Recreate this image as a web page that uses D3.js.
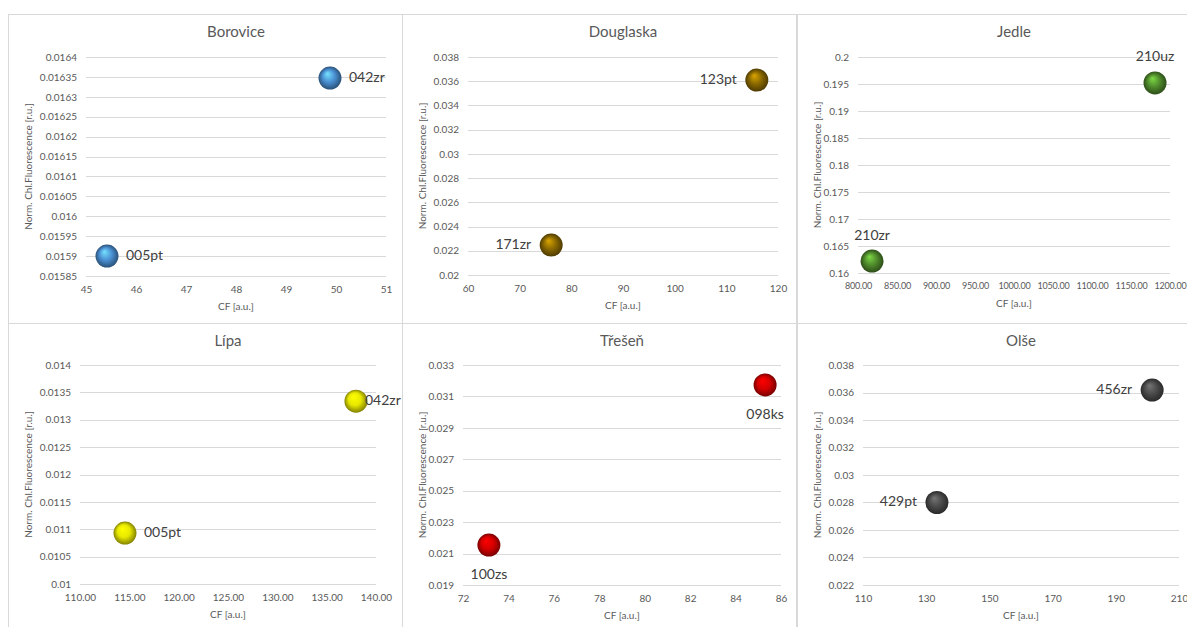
<!DOCTYPE html>
<html>
<head>
<meta charset="utf-8">
<script src="https://cdn.jsdelivr.net/npm/d3@7"></script>
<style>
  body { margin: 0; background: #fff; }
  text { font-family: Lato, "Open Sans", sans-serif; }
</style>
</head>
<body>
<script>
// data
var titles = ['Borovice', 'Douglaska', 'Jedle', 'Lípa', 'Třešeň', 'Olše'];
var pointNames = [['042zr', '005pt'], ['123pt', '171zr'], ['210uz', '210zr'],
                  ['042zr', '005pt'], ['098ks', '100zs'], ['456zr', '429pt']];
var cfValues = [[49.88, 45.42], [115.9, 76.1], [1180.8, 818],
                [137.97, 114.56], [85.3, 73.14], [201.5, 133.4]];
var fluorValues = [[0.016347, 0.0159], [0.0361, 0.02247], [0.1952, 0.1622],
                   [0.01334, 0.01093], [0.03173, 0.02154], [0.03618, 0.028]];
var xTicks = [[45, 46, 47, 48, 49, 50, 51],
              [60, 70, 80, 90, 100, 110, 120],
              [800, 850, 900, 950, 1000, 1050, 1100, 1150, 1200],
              [110, 115, 120, 125, 130, 135, 140],
              [72, 74, 76, 78, 80, 82, 84, 86],
              [110, 130, 150, 170, 190, 210]];
var yTicks = [[0.01585, 0.0159, 0.01595, 0.016, 0.01605, 0.0161, 0.01615, 0.0162, 0.01625, 0.0163, 0.01635, 0.0164],
              [0.02, 0.022, 0.024, 0.026, 0.028, 0.03, 0.032, 0.034, 0.036, 0.038],
              [0.16, 0.165, 0.17, 0.175, 0.18, 0.185, 0.19, 0.195, 0.2],
              [0.01, 0.0105, 0.011, 0.0115, 0.012, 0.0125, 0.013, 0.0135, 0.014],
              [0.019, 0.021, 0.023, 0.025, 0.027, 0.029, 0.031, 0.033],
              [0.022, 0.024, 0.026, 0.028, 0.03, 0.032, 0.034, 0.036, 0.038]];
var xFormats = ['d', 'd', '.2f', '.2f', 'd', 'd'];

// look
var sphereColors = ['#4a8fd2', '#8a6800', '#4f8a2c', '#e8e800', '#d40000', '#4a4a4a'];
var labelSide = ['right', 'left', 'above', 'right', 'below', 'left'];
var colLeft = [8, 402, 797];
var rowTop = [14, 323];
// plot area inside each panel: left, right, top, bottom
var plotBox = [[78, 378, 43, 262], [66, 376, 43, 261], [61, 373, 43, 259],
               [72, 368, 42, 261], [61, 379, 42, 262], [66, 382, 42, 262]];

var svg = d3.select('body').append('svg').attr('width', 1187).attr('height', 627);
var defs = svg.append('defs');

sphereColors.forEach(function(c, i) {
  var g = defs.append('radialGradient').attr('id', 'sph' + i)
    .attr('cx', '50%').attr('cy', '50%').attr('r', '50%')
    .attr('fx', '38%').attr('fy', '30%');
  g.append('stop').attr('offset', '0%').attr('stop-color', d3.color(c).brighter(1.3));
  g.append('stop').attr('offset', '55%').attr('stop-color', c);
  g.append('stop').attr('offset', '100%').attr('stop-color', d3.color(c).darker(1.6));
});

titles.forEach(function(title, i) {
  var px = colLeft[i % 3], py = rowTop[Math.floor(i / 3)];
  var b = plotBox[i];
  var g = svg.append('g').attr('transform', 'translate(' + px + ',' + py + ')');

  g.append('rect').attr('x', 0.5).attr('y', 0.5).attr('width', 394).attr('height', 309)
    .attr('fill', 'none').attr('stroke', '#d9d9d9');

  var xt = xTicks[i], yt = yTicks[i];
  var x = d3.scaleLinear().domain([xt[0], xt[xt.length - 1]]).range([b[0], b[1]]);
  var y = d3.scaleLinear().domain([yt[0], yt[yt.length - 1]]).range([b[3], b[2]]);

  // gridlines
  g.selectAll('line.grid').data(yt).enter().append('line')
    .attr('x1', b[0]).attr('x2', b[1])
    .attr('y1', function(d) { return Math.round(y(d)) + 0.5; })
    .attr('y2', function(d) { return Math.round(y(d)) + 0.5; })
    .attr('stroke', '#d9d9d9');

  var yAxis = g.append('g').attr('transform', 'translate(' + (b[0] - 9) + ',0)')
    .call(d3.axisLeft(y).tickValues(yt).tickSize(0).tickFormat(function(d) { return String(d); }));
  var xAxis = g.append('g').attr('transform', 'translate(0,' + (b[3] + 7) + ')')
    .call(d3.axisBottom(x).tickValues(xt).tickSize(0).tickFormat(d3.format(xFormats[i])));
  [xAxis, yAxis].forEach(function(a) {
    a.select('.domain').remove();
    a.selectAll('text').attr('fill', '#595959').style('font-size', '10px')
      .style('font-family', 'Lato, sans-serif');
  });
  yAxis.selectAll('text').attr('x', 0);
  if (i === 2) xAxis.selectAll('text').style('font-size', '9px').style('letter-spacing', '-0.2px');

  g.append('text').attr('x', (b[0] + b[1]) / 2).attr('y', 19)
    .attr('text-anchor', 'middle').attr('dominant-baseline', 'middle')
    .attr('fill', '#595959').style('font-size', '15px').text(title);

  g.append('text').attr('x', (b[0] + b[1]) / 2).attr('y', b[3] + 31)
    .attr('text-anchor', 'middle').attr('dominant-baseline', 'middle')
    .attr('fill', '#595959').style('font-size', '10px').text('CF [a.u.]');

  g.append('text').attr('transform', 'translate(' + 21 + ',' + ((b[2] + b[3]) / 2) + ') rotate(-90)')
    .attr('text-anchor', 'middle').attr('dominant-baseline', 'middle')
    .attr('fill', '#595959').style('font-size', '10px').text('Norm. Chl.Fluorescence [r.u.]');

  var pts = cfValues[i].map(function(v, k) {
    return { x: v, y: fluorValues[i][k], name: pointNames[i][k] };
  });

  g.selectAll('circle.pt').data(pts).enter().append('circle')
    .attr('cx', function(d) { return x(d.x); })
    .attr('cy', function(d) { return y(d.y); })
    .attr('r', 11.5)
    .attr('fill', 'url(#sph' + i + ')');

  var side = labelSide[i];
  g.selectAll('text.lbl').data(pts).enter().append('text')
    .attr('x', function(d) {
      var cx = x(d.x);
      if (side === 'right') return cx + (i === 3 && d.name === '042zr' ? 9 : 19);
      if (side === 'left') return cx - 20;
      return cx;
    })
    .attr('y', function(d) {
      var cy = y(d.y);
      if (side === 'above') return cy - 25;
      if (side === 'below') return cy + 30;
      return cy;
    })
    .attr('text-anchor', side === 'right' ? 'start' : side === 'left' ? 'end' : 'middle')
    .attr('dominant-baseline', 'middle')
    .attr('fill', '#404040').style('font-size', '14px')
    .text(function(d) { return d.name; });
});
</script>
</body>
</html>
